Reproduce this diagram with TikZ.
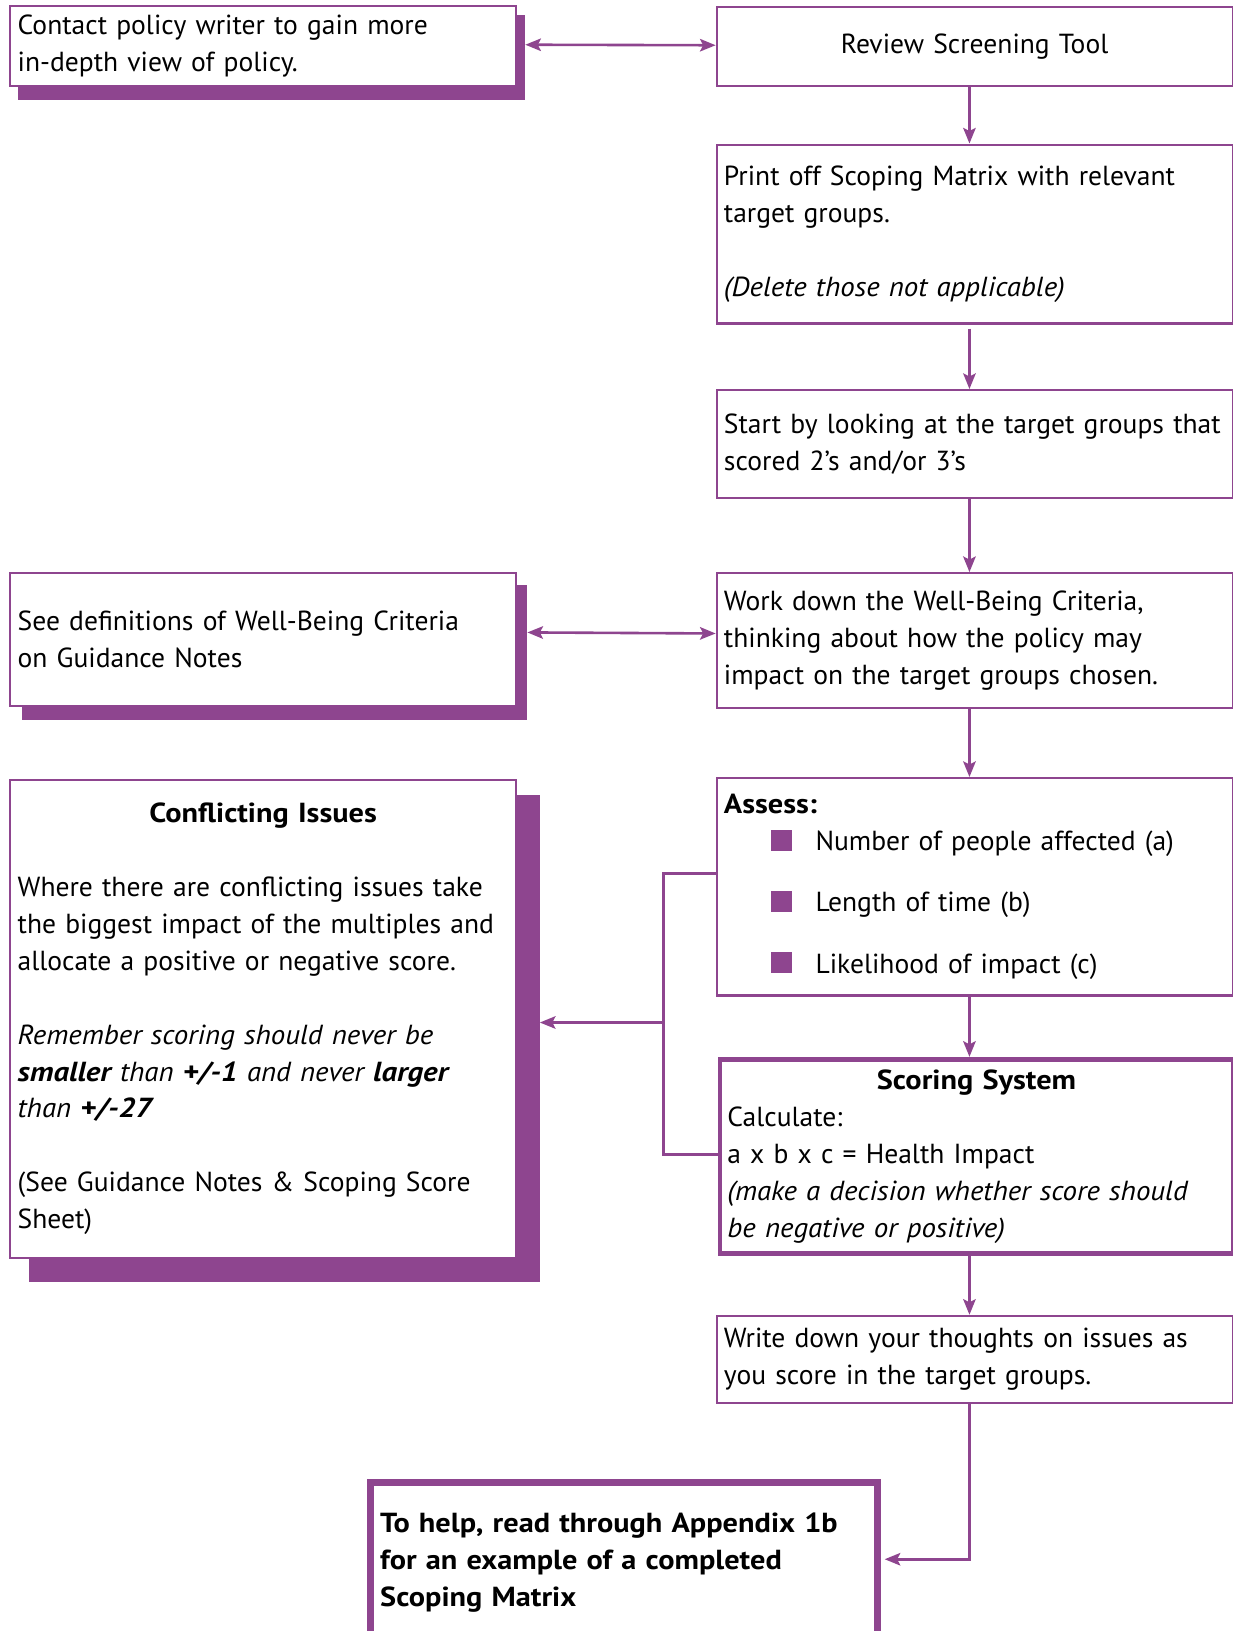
\documentclass[tikz,border=0pt]{standalone}
\usepackage{fontspec}
\setmainfont{PT Sans}[
  ItalicFeatures={FakeStretch=1.05},
  BoldFeatures={FakeStretch=1.1},
  BoldItalicFeatures={FakeStretch=1.12}]
\usetikzlibrary{arrows.meta,calc,backgrounds}
\definecolor{purp}{RGB}{142,69,143}
\newcommand\bodysize{\fontsize{26.5}{35.5}\selectfont}
\newcommand\sqbullet{\textcolor{purp}{\rule{20pt}{20pt}}}

\tikzset{
  box/.style={draw=purp, line width=2pt, fill=white, anchor=north west,
    inner xsep=7pt, inner ysep=0pt, align=left, font=\bodysize},
  heavybox/.style={box, line width=4.5pt},
  bigbox/.style={box, line width=7pt, inner xsep=9pt},
  link/.style={draw=purp, line width=2.5pt},
  flow/.style={link, ->},
  both/.style={link, <->},
  shadowfill/.style={fill=purp},
  >={Stealth[length=15pt,width=12pt,inset=3pt]}
}

\begin{document}
\begin{tikzpicture}[x=1pt,y=-1pt]
\useasboundingbox (0,0) rectangle (1185,1568);

% left-hand notes
\node[box, minimum width=486pt, minimum height=77pt, text width=472pt] (A) at (9,5)
  {Contact policy writer to gain more\\in-depth view of policy.};
\node[box, minimum width=486pt, minimum height=128pt, text width=472pt] (F) at (9,550)
  {See definitions of Well-Being Criteria\\on Guidance Notes};
\node[box, minimum width=486pt, minimum height=459pt, text width=472pt] (I) at (9,749)
  {\makebox[\hsize]{\bfseries Conflicting Issues}\\[35.5pt]
   Where there are conflicting issues take\\
   the biggest impact of the multiples and\\
   allocate a positive or negative score.\\[35.5pt]
   \textit{Remember scoring should never be}\\
   \textit{\textbf{smaller} than \textbf{+/-1} and never \textbf{larger}}\\
   \textit{than \textbf{+/-27}}\\[35.5pt]
   (See Guidance Notes \& Scoping Score\\
   Sheet)};

% main column
\node[box, minimum width=496pt, minimum height=76pt, text width=482pt, align=center] (B) at (688,6)
  {Review Screening Tool};
\node[box, minimum width=496pt, minimum height=172pt, text width=482pt] (C) at (688,138)
  {Print off Scoping Matrix with relevant\\
   target groups.\\[35.5pt]
   \textit{(Delete those not applicable)}};
\node[box, minimum width=496pt, minimum height=104pt, text width=482pt] (D) at (688,374)
  {Start by looking at the target groups that\\
   scored 2's and/or 3's};
\node[box, minimum width=496pt, minimum height=130pt, text width=482pt] (E) at (688,550)
  {Work down the Well-Being Criteria,\\
   thinking about how the policy may\\
   impact on the target groups chosen.};
\node[box, minimum width=496pt, minimum height=209pt, text width=482pt] (G) at (688,747)
  {\textbf{Assess:}\\
   \hspace*{45pt}\sqbullet\hspace{23pt}Number of people affected (a)\\[23.5pt]
   \hspace*{45pt}\sqbullet\hspace{23pt}Length of time (b)\\[23.5pt]
   \hspace*{45pt}\sqbullet\hspace{23pt}Likelihood of impact (c)};
\node[heavybox, minimum width=493pt, minimum height=187pt, text width=479pt] (H) at (690,1016)
  {\makebox[\hsize]{\bfseries Scoring System}\\
   Calculate:\\
   a x b x c = Health Impact\\
   \textit{(make a decision whether score should}\\
   \textit{be negative or positive)}};
\node[box, minimum width=496pt, minimum height=84pt, text width=482pt] (J) at (688,1264)
  {Write down your thoughts on issues as\\
   you score in the target groups.};
\node[bigbox, minimum width=487pt, minimum height=154pt, text width=469pt, font=\bodysize\bfseries] (K) at (353,1422)
  {To help, read through Appendix 1b\\
   for an example of a completed\\
   Scoping Matrix};

% drop shadows of the note boxes
\begin{scope}[on background layer]
  \fill[shadowfill] ($(A.north east)+(8,9)$) rectangle ($(A.south west)+(8,12)$);
  \fill[shadowfill] ($(F.north east)+(10,12)$) rectangle ($(F.south west)+(12,12)$);
  \fill[shadowfill] ($(I.north east)+(22,15)$) rectangle ($(I.south west)+(19,22)$);
\end{scope}

% connectors
\coordinate (spine) at (932,0);
\coordinate (g1) at (638,840);
\coordinate (h1) at (638,1110);
\coordinate (mid) at (638,983);
\coordinate (low) at (932,1499);

\draw[both] ([xshift=8pt,yshift=1.5pt]A.east) -- ([yshift=1.5pt]B.west);
\draw[both] ([xshift=10pt,yshift=7pt]F.east) -- ([yshift=7pt]E.west);
\draw[flow] (B.south -| spine) -- (C.north -| spine);
\draw[flow] ([yshift=-4pt]C.south -| spine) -- (D.north -| spine);
\draw[flow] (D.south -| spine) -- (E.north -| spine);
\draw[flow] (E.south -| spine) -- (G.north -| spine);
\draw[flow] (G.south -| spine) -- (H.north -| spine);
\draw[flow] (H.south -| spine) -- (J.north -| spine);
\draw[link] (G.west |- g1) -- (g1) -- (h1) -- (H.west |- h1);
\draw[flow] (mid) -- ([xshift=22pt]I.east |- mid);
\draw[flow] (J.south -| spine) -- (low) -- ([xshift=3.5pt]K.east |- low);
\end{tikzpicture}
\end{document}
